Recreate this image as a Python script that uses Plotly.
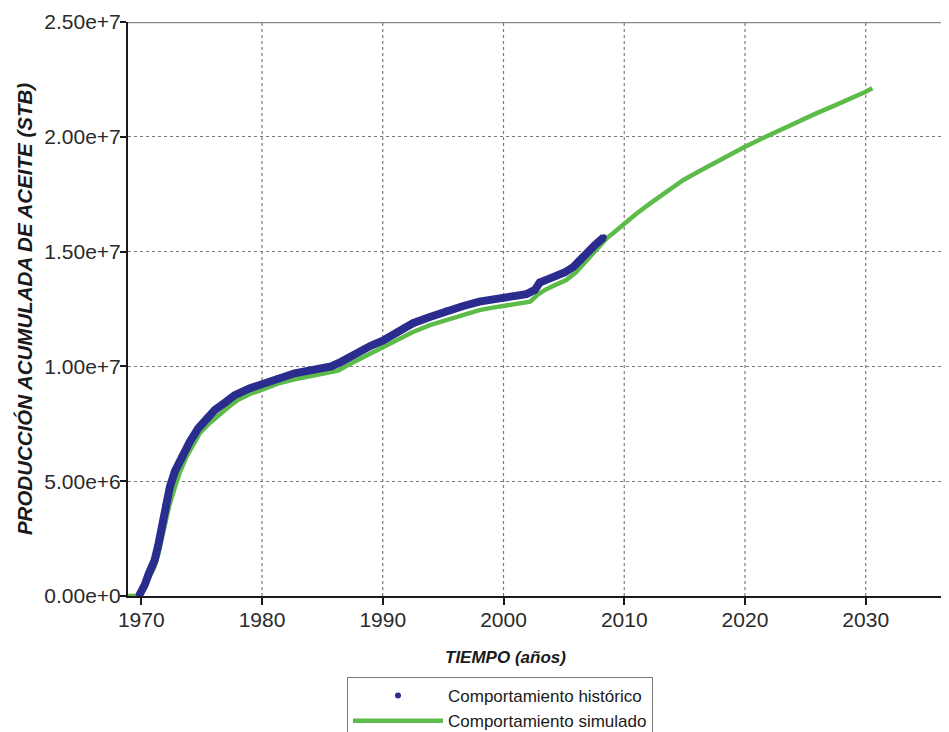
import plotly.graph_objects as go

# ---------------- data ----------------
hist_years = [1969.8, 1970.0, 1970.3, 1970.6, 1970.85, 1971.1, 1971.4, 1971.68, 1972.0, 1972.37,
              1972.8, 1973.33, 1974.0, 1974.71, 1975.4, 1976.09, 1977.0, 1977.74, 1979.0, 1980.08,
              1981.3, 1982.7, 1984.2, 1985.73, 1986.55, 1987.4, 1988.2, 1989.0, 1990.0, 1991.2,
              1992.5, 1993.9, 1995.25, 1996.6, 1998.0, 1999.0, 2000.1, 2001.0, 2001.9, 2002.6,
              2002.8, 2003.0, 2003.7, 2004.4, 2005.1, 2005.8, 2006.4, 2006.9, 2007.5, 2008.1, 2008.3]
hist_values = [0.0, 0.15e6, 0.5e6, 0.95e6, 1.28e6, 1.55e6, 2.2e6, 3.02e6, 3.95e6, 4.76e6,
               5.45e6, 6.07e6, 6.7e6, 7.30e6, 7.75e6, 8.10e6, 8.45e6, 8.75e6, 9.05e6, 9.26e6,
               9.50e6, 9.70e6, 9.85e6, 10.0e6, 10.2e6, 10.45e6, 10.7e6, 10.9e6, 11.12e6, 11.5e6,
               11.88e6, 12.15e6, 12.43e6, 12.62e6, 12.82e6, 12.9e6, 12.97e6, 13.05e6, 13.15e6, 13.33e6,
               13.5e6, 13.65e6, 13.8e6, 13.94e6, 14.1e6, 14.34e6, 14.6e6, 14.93e6, 15.25e6, 15.55e6, 15.62e6]

sim_years = [1968.9, 1969.7, 1970.0, 1970.4, 1970.8, 1971.1, 1971.4, 1971.95, 1972.3, 1972.8,
             1973.2, 1973.75, 1974.3, 1974.85, 1975.6, 1976.4, 1977.2, 1978.0, 1979.0, 1980.08,
             1981.3, 1982.7, 1984.0, 1985.5, 1986.3, 1987.2, 1988.2, 1989.0, 1990.0, 1991.2,
             1992.5, 1993.9, 1995.25, 1996.6, 1998.0, 1999.0, 2000.1, 2001.2, 2002.2, 2002.8,
             2003.5, 2004.3, 2005.2, 2006.0, 2006.8, 2007.4, 2008.3, 2008.55, 2009.2, 2010.0,
             2011.0, 2012.15, 2013.5, 2014.9, 2016.2, 2017.65, 2019.0, 2020.0, 2021.5, 2023.15,
             2024.5, 2025.9, 2027.5, 2029.0, 2030.0, 2030.55]
sim_values = [0.0, 0.0, 0.1e6, 0.55e6, 1.0e6, 1.28e6, 1.8e6, 3.02e6, 3.9e6, 4.76e6,
              5.4e6, 6.07e6, 6.6e6, 7.09e6, 7.5e6, 7.88e6, 8.22e6, 8.54e6, 8.8e6, 9.0e6,
              9.25e6, 9.44e6, 9.58e6, 9.70e6, 9.82e6, 10.08e6, 10.35e6, 10.55e6, 10.8e6, 11.15e6,
              11.5e6, 11.8e6, 12.02e6, 12.25e6, 12.45e6, 12.55e6, 12.63e6, 12.72e6, 12.82e6, 13.11e6,
              13.35e6, 13.55e6, 13.76e6, 14.1e6, 14.55e6, 14.93e6, 15.4e6, 15.58e6, 15.85e6, 16.23e6,
              16.65e6, 17.10e6, 17.6e6, 18.12e6, 18.5e6, 18.92e6, 19.3e6, 19.57e6, 19.95e6, 20.37e6,
              20.7e6, 21.02e6, 21.38e6, 21.7e6, 21.96e6, 22.11e6]

x_ticks = [1970, 1980, 1990, 2000, 2010, 2020, 2030]
y_ticks = [0, 5e6, 1e7, 1.5e7, 2e7, 2.5e7]
x_range = [1968.9, 2037.56]
y_range = [0, 2.5e7]

BLUE = "#2a2c8e"
GREEN = "#5dbb4a"
GRID = "#7a7a7a"
FONT = "Liberation Sans, Arial, sans-serif"

fig = go.Figure()
fig.add_trace(go.Scatter(x=sim_years, y=sim_values, mode="lines",
                         line=dict(color=GREEN, width=4.5),
                         name="Comportamiento simulado", legendrank=2))
fig.add_trace(go.Scatter(x=hist_years, y=hist_values, mode="lines",
                         line=dict(color=BLUE, width=8), showlegend=False,
                         hoverinfo="skip"))
fig.add_trace(go.Scatter(x=hist_years, y=hist_values, mode="markers",
                         marker=dict(color=BLUE, size=6),
                         name="Comportamiento histórico", legendrank=1))

shapes = []
for xv in x_ticks[1:]:
    shapes.append(dict(type="line", xref="x", yref="paper", x0=xv, x1=xv, y0=0, y1=1,
                       line=dict(color=GRID, width=1.2, dash="3px,3px"), layer="below"))
shapes.append(dict(type="line", xref="paper", yref="y", x0=0, x1=1,
                   y0=y_range[1], y1=y_range[1], line=dict(color="#8a8a8a", width=2.5)))

# page body has an 8px margin: the figure is offset by it
PW = 829
fig.update_layout(
    width=949, height=724,
    margin=dict(l=120, r=0, t=14, b=136, autoexpand=False),
    paper_bgcolor="white", plot_bgcolor="white",
    font=dict(family=FONT, color="#2a2a2a"),
    shapes=shapes,
    showlegend=True,
    legend=dict(x=(347 - 128) / PW, y=-81 / 574, xanchor="left", yanchor="top",
                bgcolor="white", bordercolor="#7a7a7a", borderwidth=1,
                font=dict(family=FONT, size=17, color="#1a1a1a"),
                itemwidth=90, tracegroupgap=0),
    annotations=[dict(text="TIEMPO (años)", xref="paper", yref="paper",
                      x=(505 - 128) / PW, y=-61 / 574, xanchor="center", yanchor="middle",
                      showarrow=False,
                      font=dict(family=FONT, size=17, color="#1a1a1a", weight="bold", style="italic"))],
)

fig.update_xaxes(range=x_range, tickvals=x_ticks, ticktext=[str(v) for v in x_ticks],
                 showgrid=False, zeroline=False, automargin=False,
                 showline=True, linecolor="#1a1a1a", linewidth=2,
                 ticks="outside", ticklen=7, tickwidth=2, tickcolor="#1a1a1a",
                 ticklabelstandoff=-3,
                 tickfont=dict(family=FONT, size=21, color="#2a2a2a"))
fig.update_yaxes(range=y_range, tickvals=y_ticks, tickformat=".2e",
                 showgrid=True, gridcolor=GRID, gridwidth=1.2, griddash="3px,3px",
                 zeroline=False, automargin=False,
                 showline=True, linecolor="#1a1a1a", linewidth=2,
                 ticks="outside", ticklen=6, tickwidth=2, tickcolor="#1a1a1a",
                 ticklabelstandoff=-5,
                 tickfont=dict(family=FONT, size=21, color="#2a2a2a"),
                 title=dict(text="PRODUCCIÓN ACUMULADA DE ACEITE (STB)", standoff=6,
                            font=dict(family=FONT, size=20.5, color="#1a1a1a",
                                      weight="bold", style="italic")))

fig.write_html("out.html")
